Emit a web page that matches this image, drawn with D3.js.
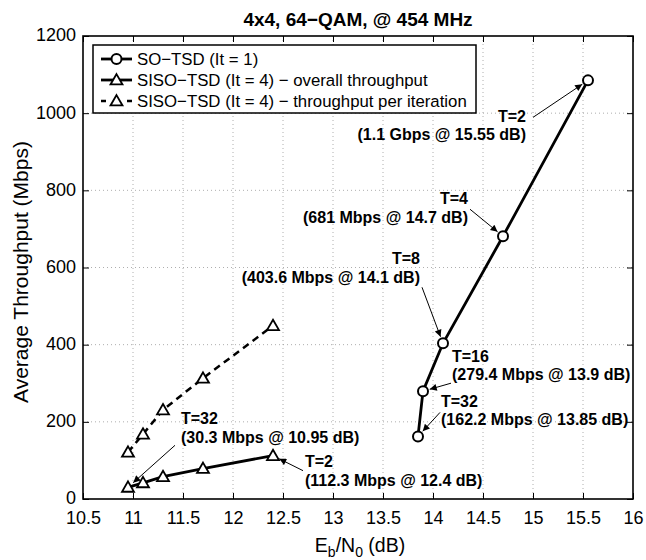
<!DOCTYPE html>
<html><head><meta charset="utf-8">
<script src="https://cdn.jsdelivr.net/npm/d3@7"></script>
<style>body{margin:0;background:#fff}svg{display:block;font-family:"Liberation Sans",Arial,Helvetica,sans-serif}</style>
</head><body><svg id="c" width="646" height="560"></svg>
<script>
// ---- data ----
const soX = [15.55, 14.7, 14.1, 13.9, 13.85];
const soY = [1085, 681, 403.6, 279.4, 162.2];
const sisoX = [10.95, 11.1, 11.3, 11.7, 12.4];
const sisoY = [30.3, 42, 58, 79, 112.3];
const sisoIterY = [121.2, 168, 231, 313, 449.2];
const xTicks = [10.5, 11, 11.5, 12, 12.5, 13, 13.5, 14, 14.5, 15, 15.5, 16];
const yTicks = [0, 200, 400, 600, 800, 1000, 1200];
const legendLabels = ["SO\u2212TSD (It = 1)", "SISO\u2212TSD (It = 4) \u2212 overall throughput", "SISO\u2212TSD (It = 4) \u2212 throughput per iteration"];
const annTitles = ["T=2", "T=4", "T=8", "T=16", "T=32", "T=32", "T=2"];
const annDetails = ["(1.1 Gbps @ 15.55 dB)", "(681 Mbps @ 14.7 dB)", "(403.6 Mbps @ 14.1 dB)", "(279.4 Mbps @ 13.9 dB)", "(162.2 Mbps @ 13.85 dB)", "(30.3 Mbps @ 10.95 dB)", "(112.3 Mbps @ 12.4 dB)"];
const annX = [15.55, 14.7, 14.1, 13.9, 13.85, 10.95, 12.4];
const annY = [1085, 681, 403.6, 279.4, 162.2, 30.3, 112.3];

// ---- layout ----
const L = 83, R = 633, T = 36, B = 499;
const svg = d3.select("#c");
const x = d3.scaleLinear().domain([10.5, 16]).range([L, R]);
const y = d3.scaleLinear().domain([0, 1200]).range([B, T]);

// grid
const g = svg.append("g");
g.selectAll(".gx").data(xTicks.slice(1, -1)).join("line")
  .attr("x1", d => x(d)).attr("x2", d => x(d)).attr("y1", T).attr("y2", B)
  .attr("stroke", "#999").attr("stroke-width", 0.8).attr("stroke-dasharray", "1,3");
g.selectAll(".gy").data(yTicks.slice(1, -1)).join("line")
  .attr("y1", d => y(d)).attr("y2", d => y(d)).attr("x1", L).attr("x2", R)
  .attr("stroke", "#999").attr("stroke-width", 0.8).attr("stroke-dasharray", "1,3");

// axes
const tk = 6;
const ax = svg.append("g").attr("transform", `translate(0,${B})`)
  .call(d3.axisBottom(x).tickValues(xTicks).tickFormat(d3.format("")).tickSizeInner(-tk).tickSizeOuter(0).tickPadding(12.5));
const axT = svg.append("g").attr("transform", `translate(0,${T})`)
  .call(d3.axisTop(x).tickValues(xTicks).tickFormat("").tickSizeInner(-tk).tickSizeOuter(0));
const ay = svg.append("g").attr("transform", `translate(${L},0)`)
  .call(d3.axisLeft(y).tickValues(yTicks).tickFormat(d3.format("d")).tickSizeInner(-tk).tickSizeOuter(0).tickPadding(7));
const ayR = svg.append("g").attr("transform", `translate(${R},0)`)
  .call(d3.axisRight(y).tickValues(yTicks).tickFormat("").tickSizeInner(-tk).tickSizeOuter(0));
[ax, axT, ay, ayR].forEach(a => {
  a.select(".domain").remove();
  a.selectAll("line").attr("stroke", "#000").attr("stroke-width", 1);
  a.selectAll("text").attr("font-size", 18).attr("fill", "#000").attr("font-family", "Liberation Sans, Arial, sans-serif");
});
ax.selectAll("text").attr("dy", "0.71em");
ay.selectAll("text").attr("dy", "0.27em");
svg.append("rect").attr("x", L).attr("y", T).attr("width", R - L).attr("height", B - T)
  .attr("fill", "none").attr("stroke", "#000").attr("stroke-width", 1.6);

// title and axis labels
svg.append("text").attr("x", (L + R) / 2).attr("y", 26).attr("text-anchor", "middle")
  .attr("font-size", 19).attr("font-weight", "bold").text("4x4, 64\u2212QAM, @ 454 MHz");
const xl = svg.append("text").attr("x", 360).attr("y", 552).attr("text-anchor", "middle").attr("font-size", 19.5);
xl.append("tspan").text("E");
xl.append("tspan").attr("font-size", 14).attr("dy", 5).text("b");
xl.append("tspan").attr("dy", -5).text("/N");
xl.append("tspan").attr("font-size", 14).attr("dy", 5).text("0");
xl.append("tspan").attr("dy", -5).text(" (dB)");
svg.append("text").attr("transform", `translate(28,272) rotate(-90)`)
  .attr("text-anchor", "middle").attr("font-size", 21).text("Average Throughput (Mbps)");

// series
const line = d3.line().x(d => x(d[0])).y(d => y(d[1]));
const so = d3.zip(soX, soY), siso = d3.zip(sisoX, sisoY), sisoIt = d3.zip(sisoX, sisoIterY);
const tri = d3.symbol().type(d3.symbolTriangle).size(62);
function triangles(data) {
  svg.append("g").selectAll("path").data(data).join("path")
    .attr("d", tri).attr("transform", d => `translate(${x(d[0])},${y(d[1]) + 1})`)
    .attr("fill", "#fff").attr("stroke", "#000").attr("stroke-width", 1.8);
}
svg.append("path").datum(sisoIt).attr("d", line).attr("fill", "none").attr("stroke", "#000")
  .attr("stroke-width", 2.5).attr("stroke-dasharray", "7,5");
triangles(sisoIt);
svg.append("path").datum(siso).attr("d", line).attr("fill", "none").attr("stroke", "#000").attr("stroke-width", 2.8);
triangles(siso);
svg.append("path").datum(so).attr("d", line).attr("fill", "none").attr("stroke", "#000").attr("stroke-width", 2.8);
svg.append("g").selectAll("circle").data(so).join("circle")
  .attr("cx", d => x(d[0])).attr("cy", d => y(d[1])).attr("r", 5)
  .attr("fill", "#fff").attr("stroke", "#000").attr("stroke-width", 2);

// annotations: offsets of arrow tail and text (pixels, relative to the data point)
const annTail = [[-55, 37], [-33, -27], [-21, -56], [28, -8], [22, -24], [47, -42], [30, 15]];
const annText = [[-62, 41.5, "end"], [-35, -32, "end"], [-23, -79, "end"], [29, -29.5, "start"], [23, -29.5, "start"], [53, -63, "start"], [32, 11.5, "start"]];
svg.append("defs").append("marker").attr("id", "ah").attr("viewBox", "0 0 10 10")
  .attr("refX", 10).attr("refY", 5).attr("markerWidth", 9).attr("markerHeight", 7)
  .attr("markerUnits", "userSpaceOnUse").attr("orient", "auto")
  .append("path").attr("d", "M0,0L10,5L0,10z").attr("fill", "#000");
annX.forEach((vx, i) => {
  const px = x(vx), py = y(annY[i]);
  const tx = px + annTail[i][0], ty = py + annTail[i][1];
  const dx = px - tx, dy = py - ty, len = Math.hypot(dx, dy), sh = 7;
  svg.append("line").attr("x1", tx).attr("y1", ty)
    .attr("x2", px - dx / len * sh).attr("y2", py - dy / len * sh)
    .attr("stroke", "#000").attr("stroke-width", 1).attr("marker-end", "url(#ah)");
  const t = svg.append("text").attr("font-size", 16).attr("font-weight", "bold")
    .attr("text-anchor", annText[i][2]);
  t.append("tspan").attr("x", px + annText[i][0]).attr("y", py + annText[i][1]).text(annTitles[i]);
  t.append("tspan").attr("x", px + annText[i][0]).attr("y", py + annText[i][1] + 18.5).text(annDetails[i]);
});

// legend
const lg = svg.append("g");
lg.append("rect").attr("x", 93).attr("y", 45).attr("width", 383).attr("height", 68)
  .attr("fill", "#fff").attr("stroke", "#000").attr("stroke-width", 1.5);
legendLabels.forEach((lab, i) => {
  const ly = 59 + i * 21;
  if (i < 2) {
    lg.append("line").attr("x1", 101).attr("x2", 132).attr("y1", ly).attr("y2", ly)
      .attr("stroke", "#000").attr("stroke-width", 2.8);
  } else {
    lg.append("line").attr("x1", 101).attr("x2", 132).attr("y1", ly).attr("y2", ly)
      .attr("stroke", "#000").attr("stroke-width", 2.5).attr("stroke-dasharray", "5,21");
  }
  if (i === 0) {
    lg.append("circle").attr("cx", 116.5).attr("cy", ly).attr("r", 5)
      .attr("fill", "#fff").attr("stroke", "#000").attr("stroke-width", 2);
  } else {
    lg.append("path").attr("d", tri).attr("transform", `translate(116.5,${ly + 1})`)
      .attr("fill", "#fff").attr("stroke", "#000").attr("stroke-width", 1.8);
  }
  lg.append("text").attr("x", 137).attr("y", ly).attr("dy", "0.35em").attr("font-size", 16.8).text(lab);
});
</script></body></html>
